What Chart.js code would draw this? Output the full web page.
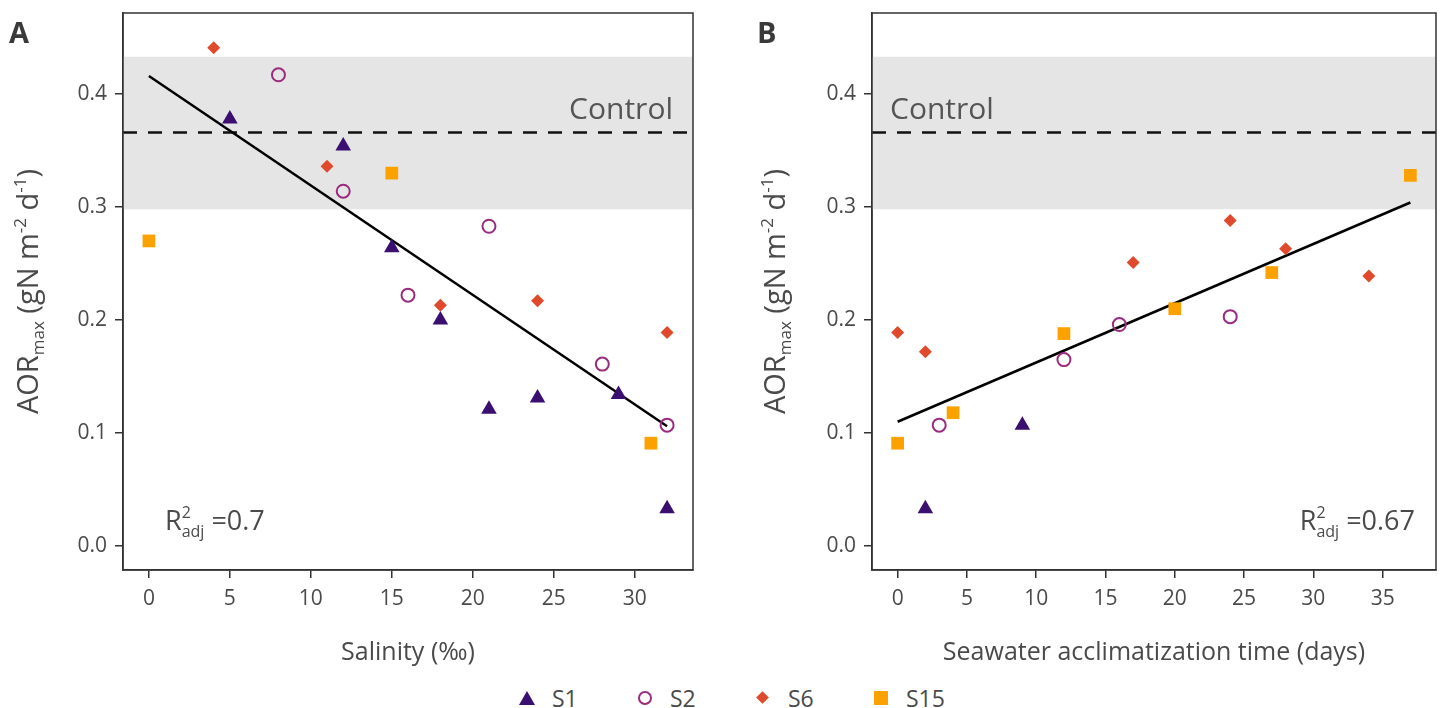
<!DOCTYPE html>
<html>
<head>
<meta charset="utf-8">
<script src="https://cdn.jsdelivr.net/npm/chart.js@4.4.1/dist/chart.umd.min.js"></script>
<style>
  body { margin: 0; background: #fff; width: 1445px; height: 708px; overflow: hidden; font-family: "Open Sans", sans-serif; }
  .panel { position: absolute; top: 0; height: 680px; }
  #wrapA { left: 0; width: 720px; }
  #wrapB { left: 750px; width: 695px; }
  #legend { position: absolute; left: 519px; top: 685px; height: 26px; display: flex; align-items: center; color: #4a4a4a; font-size: 23px; }
  .item { display: flex; align-items: center; width: 118px; }
  .item:last-child { width: auto; }
  .mk { width: 16px; height: 16px; position: relative; margin-right: 17px; }
</style>
</head>
<body>
<div class="panel" id="wrapA"><canvas id="chartA"></canvas></div>
<div class="panel" id="wrapB"><canvas id="chartB"></canvas></div>
<div id="legend"></div>
<script>
// series
const seriesNames = ['S1', 'S2', 'S6', 'S15'];
const seriesColors = ['#3b0f6f', '#9a2b7e', '#e04a2c', '#fba100'];
const seriesShapes = ['triangle', 'circle', 'rectRot', 'rect'];

// panel A - salinity (‰)
const salS1 = [5, 12, 15, 18, 21, 24, 29, 32];
const aorS1A = [0.378, 0.354, 0.264, 0.200, 0.121, 0.131, 0.134, 0.033];
const salS2 = [8, 12, 16, 21, 28, 32];
const aorS2A = [0.417, 0.314, 0.222, 0.283, 0.161, 0.107];
const salS6 = [4, 11, 18, 24, 32];
const aorS6A = [0.441, 0.336, 0.213, 0.217, 0.189];
const salS15 = [0, 15, 31];
const aorS15A = [0.270, 0.330, 0.091];
const fitAx = [0, 32];
const fitAy = [0.416, 0.106];

// panel B - seawater acclimatization time (days)
const dayS1 = [2, 9];
const aorS1B = [0.033, 0.107];
const dayS2 = [3, 12, 16, 24];
const aorS2B = [0.107, 0.165, 0.196, 0.203];
const dayS6 = [0, 2, 17, 24, 28, 34];
const aorS6B = [0.189, 0.172, 0.251, 0.288, 0.263, 0.239];
const dayS15 = [0, 4, 12, 20, 27, 37];
const aorS15B = [0.091, 0.118, 0.188, 0.210, 0.242, 0.328];
const fitBx = [0, 37];
const fitBy = [0.110, 0.304];

// control mean and range
const controlBand = [0.298, 0.433];
const controlMean = 0.366;

const yRange = [-0.0212, 0.4717];
const xRangeA = [-1.6, 33.6];
const xRangeB = [-1.85, 38.85];

Chart.defaults.font.family = '"Open Sans", sans-serif';
Chart.defaults.color = '#4a4a4a';

function pts(xs, ys) {
  return xs.map((x, i) => ({ x: x, y: ys[i] }));
}

function seriesDatasets(xsList, ysList) {
  return seriesNames.map((name, i) => {
    const open = seriesShapes[i] === 'circle';
    const radius = { triangle: 9, circle: 6.5, rectRot: 6.5, rect: 9 }[seriesShapes[i]];
    return {
      label: name,
      data: pts(xsList[i], ysList[i]),
      pointStyle: seriesShapes[i],
      pointRadius: radius,
      pointBackgroundColor: open ? 'rgba(0,0,0,0)' : seriesColors[i],
      pointBorderColor: seriesColors[i],
      pointBorderWidth: open ? 2 : 0
    };
  });
}

function drawRich(ctx, parts, x, baseline) {
  parts.forEach(p => {
    ctx.font = p.size + 'px "Open Sans", sans-serif';
    ctx.fillText(p.t, x, baseline + (p.dy || 0));
    if (!p.stack) x += ctx.measureText(p.t).width;
  });
  return x;
}

function richWidth(ctx, parts) {
  let w = 0;
  parts.forEach(p => {
    ctx.font = p.size + 'px "Open Sans", sans-serif';
    if (!p.stack) w += ctx.measureText(p.t).width;
  });
  return w;
}

const yTitleParts = [
  { t: 'AOR', size: 29 },
  { t: 'max', size: 17, dy: 6 },
  { t: ' (gN m', size: 29 },
  { t: '-2', size: 17, dy: -12 },
  { t: ' d', size: 29 },
  { t: '-1', size: 17, dy: -12 },
  { t: ')', size: 29 }
];

const panelDecor = {
  id: 'panelDecor',
  beforeDatasetsDraw(chart, args, o) {
    const { ctx, chartArea: a, scales: { y } } = chart;
    ctx.save();
    const top = y.getPixelForValue(controlBand[1]);
    const bot = y.getPixelForValue(controlBand[0]);
    ctx.fillStyle = '#e5e5e5';
    ctx.fillRect(a.left, top, a.right - a.left, bot - top);
    const ym = y.getPixelForValue(controlMean);
    ctx.strokeStyle = '#111';
    ctx.lineWidth = 2.5;
    ctx.setLineDash([14, 11]);
    ctx.beginPath();
    ctx.moveTo(a.left, ym);
    ctx.lineTo(a.right, ym);
    ctx.stroke();
    ctx.setLineDash([]);

    ctx.fillStyle = '#555';
    ctx.font = '30px "Open Sans", sans-serif';
    ctx.textBaseline = 'alphabetic';
    if (o.controlSide === 'right') {
      ctx.textAlign = 'right';
      ctx.fillText('Control', a.right - 20, ym - 13);
    } else {
      ctx.textAlign = 'left';
      ctx.fillText('Control', a.left + 18, ym - 13);
    }
    ctx.restore();
  },
  afterDraw(chart, args, o) {
    const { ctx, chartArea: a } = chart;
    ctx.save();
    // frame
    ctx.strokeStyle = '#333';
    ctx.lineWidth = 1.5;
    ctx.strokeRect(a.left, a.top, a.right - a.left, a.bottom - a.top);

    // R2 adj
    const r2Parts = [
      { t: 'R', size: 27 },
      { t: '2', size: 16, dy: -12, stack: true },
      { t: 'adj', size: 16, dy: 7 },
      { t: ' =' + o.r2, size: 27 }
    ];
    ctx.fillStyle = '#4a4a4a';
    ctx.textAlign = 'left';
    ctx.textBaseline = 'alphabetic';
    const w = richWidth(ctx, r2Parts);
    const rx = o.r2Side === 'left' ? a.left + 42 : a.right - 21 - w;
    drawRich(ctx, r2Parts, rx, a.bottom - 40);

    // y title, rotated
    ctx.translate(o.yTitleX, (a.top + a.bottom) / 2);
    ctx.rotate(-Math.PI / 2);
    const tw = richWidth(ctx, yTitleParts);
    drawRich(ctx, yTitleParts, -tw / 2, 10);
    ctx.restore();

    // panel letter
    ctx.save();
    ctx.fillStyle = '#3a3a3a';
    ctx.font = 'bold 29px "Open Sans", sans-serif';
    ctx.textAlign = 'left';
    ctx.textBaseline = 'alphabetic';
    ctx.fillText(o.letter, o.letterX, 43);
    ctx.restore();
  }
};

function makeChart(id, cfg) {
  const datasets = seriesDatasets(cfg.xs, cfg.ys);
  datasets.push({
    label: 'fit',
    data: pts(cfg.fitX, cfg.fitY),
    showLine: true,
    borderColor: '#000',
    borderWidth: 2.5,
    pointRadius: 0
  });
  return new Chart(document.getElementById(id), {
    type: 'scatter',
    data: { datasets: datasets },
    options: {
      responsive: true,
      maintainAspectRatio: false,
      animation: false,
      layout: { padding: { top: 13, right: cfg.padRight, bottom: 0, left: 0 } },
      plugins: {
        legend: { display: false },
        tooltip: { enabled: false },
        panelDecor: cfg.decor
      },
      scales: {
        x: {
          type: 'linear',
          min: cfg.xRange[0],
          max: cfg.xRange[1],
          afterFit: s => { s.height = 110; s.paddingLeft = 0; s.paddingRight = 0; },
          grid: { drawOnChartArea: false, drawTicks: true, tickLength: 8, color: '#333', lineWidth: 1.5 },
          border: { display: true, color: '#333', width: 1.5 },
          ticks: { stepSize: 5, includeBounds: false, padding: 8, font: { size: 21 }, color: '#4a4a4a', maxRotation: 0 },
          title: { display: true, text: cfg.xTitle, font: { size: 25 }, color: '#4a4a4a', padding: { top: 0, bottom: 12 } }
        },
        y: {
          type: 'linear',
          min: yRange[0],
          max: yRange[1],
          afterFit: s => { s.width = cfg.yWidth; s.paddingTop = 0; s.paddingBottom = 0; },
          grid: { drawOnChartArea: false, drawTicks: true, tickLength: 8, color: '#333', lineWidth: 1.5 },
          border: { display: true, color: '#333', width: 1.5 },
          ticks: {
            stepSize: 0.1,
            includeBounds: false,
            padding: 8,
            font: { size: 21 },
            color: '#4a4a4a',
            callback: v => v.toFixed(1)
          }
        }
      }
    },
    plugins: [panelDecor]
  });
}

makeChart('chartA', {
  xs: [salS1, salS2, salS6, salS15],
  ys: [aorS1A, aorS2A, aorS6A, aorS15A],
  fitX: fitAx, fitY: fitAy,
  xRange: xRangeA,
  xTitle: 'Salinity (‰)',
  padRight: 27,
  yWidth: 123,
  decor: { letter: 'A', letterX: 9, yTitleX: 28, controlSide: 'right', r2: '0.7', r2Side: 'left' }
});

makeChart('chartB', {
  xs: [dayS1, dayS2, dayS6, dayS15],
  ys: [aorS1B, aorS2B, aorS6B, aorS15B],
  fitX: fitBx, fitY: fitBy,
  xRange: xRangeB,
  xTitle: 'Seawater acclimatization time (days)',
  padRight: 6,
  yWidth: 122,
  decor: { letter: 'B', letterX: 7, yTitleX: 25, controlSide: 'left', r2: '0.67', r2Side: 'right' }
});

// legend
const legend = document.getElementById('legend');
seriesNames.forEach((name, i) => {
  const item = document.createElement('div');
  item.className = 'item';
  const mk = document.createElement('div');
  mk.className = 'mk';
  const c = seriesColors[i];
  const s = seriesShapes[i];
  if (s === 'triangle') {
    mk.innerHTML = '<div style="position:absolute;left:0;top:1px;width:0;height:0;border-left:8px solid transparent;border-right:8px solid transparent;border-bottom:14px solid ' + c + '"></div>';
  } else if (s === 'circle') {
    mk.innerHTML = '<div style="position:absolute;left:1px;top:1px;width:10px;height:10px;border:2px solid ' + c + ';border-radius:50%"></div>';
  } else if (s === 'rectRot') {
    mk.innerHTML = '<div style="position:absolute;left:3px;top:3px;width:9px;height:9px;background:' + c + ';transform:rotate(45deg)"></div>';
  } else {
    mk.innerHTML = '<div style="position:absolute;left:1px;top:1px;width:14px;height:14px;background:' + c + '"></div>';
  }
  const label = document.createElement('span');
  label.textContent = name;
  item.appendChild(mk);
  item.appendChild(label);
  legend.appendChild(item);
});
</script>
</body>
</html>
